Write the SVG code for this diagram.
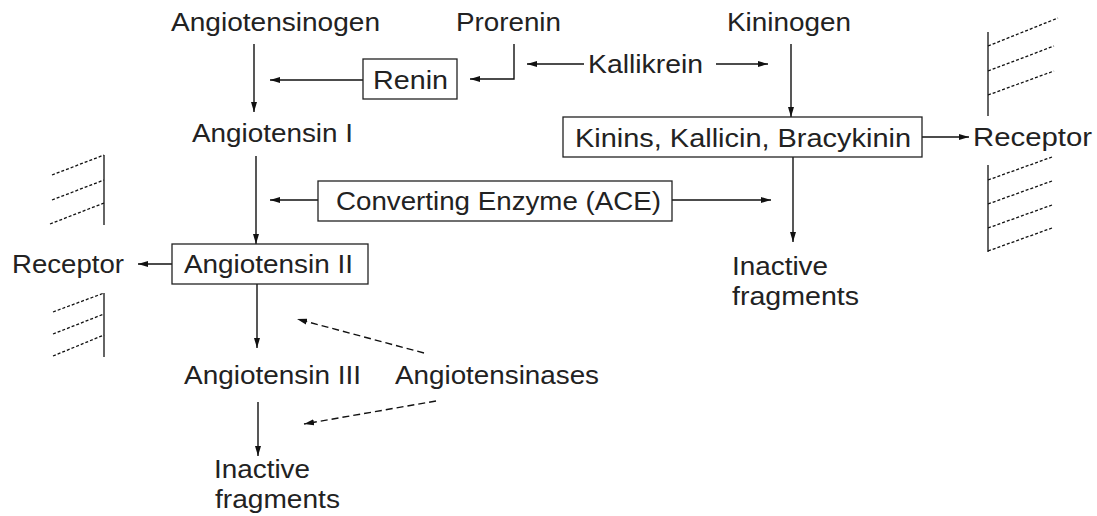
<svg xmlns="http://www.w3.org/2000/svg" width="1097" height="516" viewBox="0 0 1097 516">
<defs>
<marker id="ah" markerWidth="11" markerHeight="8" refX="10" refY="4" orient="auto" markerUnits="userSpaceOnUse">
<path d="M0,1 L10,4 L0,7 z" fill="#111"/>
</marker>
</defs>
<style>
text{font-family:"Liberation Sans",Arial,sans-serif;font-size:25px;fill:#222;}
.box{fill:#fff;stroke:#222;stroke-width:1.3}
.ln{stroke:#111;stroke-width:1.4;fill:none}
.arr{marker-end:url(#ah)}
.dash{stroke-dasharray:7 4}
.hatch{stroke:#111;stroke-width:1.3;fill:none}
.hd{stroke:#111;stroke-width:1.3;stroke-dasharray:3 2;fill:none}
</style>
<rect width="1097" height="516" fill="#fff"/>
<g id="connectors">
<line class="ln arr" x1="254" y1="44" x2="254" y2="112"/>
<line class="ln arr" x1="363" y1="80" x2="270" y2="80"/>
<polyline class="ln arr" points="514,44 514,79 470,79"/>
<line class="ln arr" x1="584" y1="64" x2="527" y2="64"/>
<line class="ln arr" x1="716" y1="64" x2="768" y2="64"/>
<line class="ln arr" x1="791" y1="44" x2="791" y2="117"/>
<line class="ln arr" x1="922" y1="137" x2="969" y2="137"/>
<line class="ln arr" x1="256" y1="156" x2="256" y2="244"/>
<line class="ln arr" x1="318" y1="200" x2="270" y2="200"/>
<line class="ln arr" x1="672" y1="200" x2="771" y2="200"/>
<line class="ln arr" x1="793" y1="157" x2="793" y2="242"/>
<line class="ln arr" x1="172" y1="264" x2="138" y2="264"/>
<line class="ln arr" x1="257" y1="284" x2="257" y2="348"/>
<line class="ln arr dash" x1="424" y1="353" x2="297" y2="319"/>
<line class="ln arr dash" x1="436" y1="401" x2="304" y2="424"/>
<line class="ln arr" x1="258" y1="402" x2="258" y2="456"/>
</g>
<g id="hatch-right-top">
<line class="hatch" x1="988" y1="32" x2="988" y2="116"/>
<line class="hd" x1="988" y1="46" x2="1058" y2="18"/>
<line class="hd" x1="988" y1="71" x2="1054" y2="46"/>
<line class="hd" x1="988" y1="95" x2="1054" y2="71"/>
</g>
<g id="hatch-right-bottom">
<line class="hatch" x1="988" y1="165" x2="988" y2="252"/>
<line class="hd" x1="988" y1="180" x2="1052" y2="157"/>
<line class="hd" x1="988" y1="204" x2="1052" y2="181"/>
<line class="hd" x1="988" y1="228" x2="1052" y2="205"/>
<line class="hd" x1="988" y1="251" x2="1052" y2="228"/>
</g>
<g id="hatch-left-top">
<line class="hatch" x1="104" y1="155" x2="104" y2="225"/>
<line class="hd" x1="52" y1="175" x2="104" y2="155"/>
<line class="hd" x1="52" y1="200" x2="104" y2="180"/>
<line class="hd" x1="50" y1="224" x2="104" y2="203"/>
</g>
<g id="hatch-left-bottom">
<line class="hatch" x1="104" y1="293" x2="104" y2="357"/>
<line class="hd" x1="53" y1="312" x2="104" y2="293"/>
<line class="hd" x1="53" y1="334" x2="104" y2="314"/>
<line class="hd" x1="53" y1="356" x2="104" y2="335"/>
</g>
<g id="n-angiotensinogen"><text x="171" y="31" textLength="209" lengthAdjust="spacingAndGlyphs">Angiotensinogen</text></g>
<g id="n-prorenin"><text x="456" y="31" textLength="105" lengthAdjust="spacingAndGlyphs">Prorenin</text></g>
<g id="n-kininogen"><text x="727" y="31" textLength="124" lengthAdjust="spacingAndGlyphs">Kininogen</text></g>
<g id="n-renin"><rect class="box" x="363" y="59" width="94" height="40"/><text x="373" y="89" textLength="75" lengthAdjust="spacingAndGlyphs">Renin</text></g>
<g id="n-kallikrein"><text x="588" y="73" textLength="115" lengthAdjust="spacingAndGlyphs">Kallikrein</text></g>
<g id="n-angiotensin-1"><text x="192" y="142" textLength="161" lengthAdjust="spacingAndGlyphs">Angiotensin I</text></g>
<g id="n-kinins"><rect class="box" x="563" y="117" width="359" height="40"/><text x="575" y="147" textLength="336" lengthAdjust="spacingAndGlyphs">Kinins, Kallicin, Bracykinin</text></g>
<g id="n-receptor-right"><text x="973" y="146" textLength="119" lengthAdjust="spacingAndGlyphs">Receptor</text></g>
<g id="n-ace"><rect class="box" x="318" y="181" width="354" height="40"/><text x="336" y="210" textLength="325" lengthAdjust="spacingAndGlyphs">Converting Enzyme (ACE)</text></g>
<g id="n-inactive-right"><text x="732" y="275" textLength="96" lengthAdjust="spacingAndGlyphs">Inactive</text><text x="732" y="305" textLength="127" lengthAdjust="spacingAndGlyphs">fragments</text></g>
<g id="n-receptor-left"><text x="12" y="273" textLength="112" lengthAdjust="spacingAndGlyphs">Receptor</text></g>
<g id="n-angiotensin-2"><rect class="box" x="172" y="244" width="196" height="40"/><text x="184" y="273" textLength="169" lengthAdjust="spacingAndGlyphs">Angiotensin II</text></g>
<g id="n-angiotensin-3"><text x="184" y="384" textLength="177" lengthAdjust="spacingAndGlyphs">Angiotensin III</text></g>
<g id="n-angiotensinases"><text x="395" y="384" textLength="204" lengthAdjust="spacingAndGlyphs">Angiotensinases</text></g>
<g id="n-inactive-bottom"><text x="214" y="478" textLength="96" lengthAdjust="spacingAndGlyphs">Inactive</text><text x="215" y="508" textLength="125" lengthAdjust="spacingAndGlyphs">fragments</text></g>
</svg>
